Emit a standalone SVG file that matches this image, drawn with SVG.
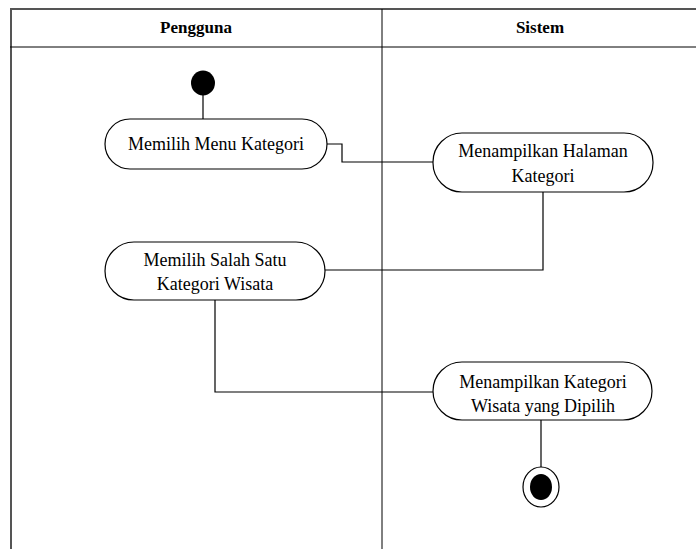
<svg xmlns="http://www.w3.org/2000/svg" width="696" height="549" viewBox="0 0 696 549">
  <style>
    .frame { stroke: #555; stroke-width: 2; fill: none; }
    .lane { stroke: #000; stroke-width: 1; fill: none; }
    .head { font-weight: bold; text-anchor: middle; fill: #000; }
    .act rect { fill: #fff; stroke: #000; stroke-width: 1.2; }
    .act text { text-anchor: middle; fill: #000; }
    .flow { stroke: #000; stroke-width: 1.2; fill: none; }
  </style>

  <g font-family="Liberation Serif, serif" font-size="18">
  <!-- swimlane frame -->
  <g id="lanes">
    <line class="frame" x1="10" y1="9" x2="696" y2="9"/>
    <line class="frame" x1="11" y1="9" x2="11" y2="549"/>
    <line class="lane" x1="10" y1="47" x2="696" y2="47" stroke-width="2"/>
    <line class="lane" x1="382" y1="9" x2="382" y2="549"/>
    <text class="head" x="196" y="33" font-size="17">Pengguna</text>
    <text class="head" x="540" y="33" font-size="17">Sistem</text>
  </g>

  <!-- control flow -->
  <g id="connectors">
    <polyline class="flow" points="203,95 203,119"/>
    <polyline class="flow" points="327,144 342,144 342,162 433,162"/>
    <polyline class="flow" points="543,192 543,270 325,270"/>
    <polyline class="flow" points="215,300 215,392 433,392"/>
    <polyline class="flow" points="541,420 541,467"/>
  </g>

  <g id="start">
    <ellipse cx="203" cy="83" rx="12" ry="12.5" fill="#000"/>
  </g>

  <g id="memilih-menu" class="act">
    <rect x="105" y="119" width="222" height="50" rx="25" ry="25"/>
    <text x="216" y="150">Memilih Menu Kategori</text>
  </g>

  <g id="menampilkan-halaman" class="act">
    <rect x="433" y="133" width="220" height="59" rx="29" ry="29"/>
    <text x="543" y="157">Menampilkan Halaman</text>
    <text x="543" y="182">Kategori</text>
  </g>

  <g id="memilih-kategori" class="act">
    <rect x="105" y="242" width="220" height="58" rx="29" ry="29"/>
    <text x="215" y="266">Memilih Salah Satu</text>
    <text x="215" y="290">Kategori Wisata</text>
  </g>

  <g id="menampilkan-kategori" class="act">
    <rect x="433" y="362" width="219" height="58" rx="29" ry="29"/>
    <text x="543" y="388">Menampilkan Kategori</text>
    <text x="543" y="412">Wisata yang Dipilih</text>
  </g>

  <g id="end">
    <ellipse cx="541" cy="487" rx="18" ry="20" fill="#fff" stroke="#000" stroke-width="1.2"/>
    <ellipse cx="541" cy="487" rx="11" ry="13" fill="#000"/>
  </g>
  </g>
</svg>
